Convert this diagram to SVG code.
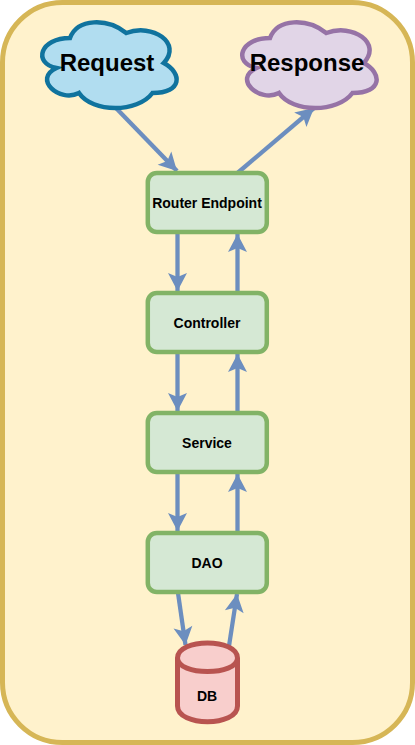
<svg xmlns="http://www.w3.org/2000/svg" width="415" height="745" viewBox="0 0 415 745">
<style>
text{font-family:"Liberation Sans",Arial,sans-serif;font-weight:bold;fill:#000;text-anchor:middle}
.big{font-size:24px}.small{font-size:14px}
.box{fill:#d5e8d4;stroke:#82b366;stroke-width:4.500}
.link{fill:none;stroke:#6c8ebf;stroke-width:4.300;marker-end:url(#arrow)}
</style>
<defs>
<marker id="arrow" markerUnits="userSpaceOnUse" markerWidth="20" markerHeight="20" refX="18" refY="9.500" orient="auto" overflow="visible"><path d="M0 0L18 9.500L0 19L4 9.500Z" fill="#6c8ebf"/></marker>
<path id="cloud" d="M37.500 25C7.500 25 0 50 24 55C0 66 27 90 46.500 80C60 100 105 100 120 80C150 80 150 60 131.250 50C150 30 120 10 93.750 20C75 5 45 5 37.500 25Z"/>
</defs>
<g id="frame"><rect x="2.500" y="2.500" width="410" height="740" rx="60" fill="#fff2cc" stroke="#d6b656" stroke-width="5"/></g>
<g id="connectors">
<path class="link" d="M116 108L177 171"/>
<path class="link" d="M237.500 173L314 108"/>
<path class="link" d="M177.500 233V291"/>
<path class="link" d="M237.500 293V234"/>
<path class="link" d="M177.500 353V411"/>
<path class="link" d="M237.500 413V354"/>
<path class="link" d="M177.500 473V531"/>
<path class="link" d="M237.500 533V474"/>
<path class="link" d="M178 593L185.500 645"/>
<path class="link" d="M229 646L237 594"/>
</g>
<g id="request"><use href="#cloud" x="32.500" y="13" fill="#b1ddf0" stroke="#10739e" stroke-width="4.500"/><text class="big" x="107" y="71">Request</text></g>
<g id="response"><use href="#cloud" x="232.500" y="13" fill="#e1d5e7" stroke="#9673a6" stroke-width="4.500"/><text class="big" x="307" y="71">Response</text></g>
<g id="router"><rect class="box" x="147.800" y="173" width="119" height="59" rx="9"/><text class="small" x="207" y="208">Router Endpoint</text></g>
<g id="controller"><rect class="box" x="147.800" y="293" width="119" height="59" rx="9"/><text class="small" x="207" y="328">Controller</text></g>
<g id="service"><rect class="box" x="147.800" y="413" width="119" height="59" rx="9"/><text class="small" x="207" y="448">Service</text></g>
<g id="dao"><rect class="box" x="147.800" y="533" width="119" height="59" rx="9"/><text class="small" x="207" y="568">DAO</text></g>
<g id="db" fill="#f8cecc" stroke="#b85450" stroke-width="5"><path d="M177.500 658C177.500 638 237.500 638 237.500 658V706C237.500 727 177.500 727 177.500 706Z"/><path d="M177.500 658C177.500 676 237.500 676 237.500 658" fill="none"/><text class="small" x="207" y="701" stroke="none">DB</text></g>
</svg>
